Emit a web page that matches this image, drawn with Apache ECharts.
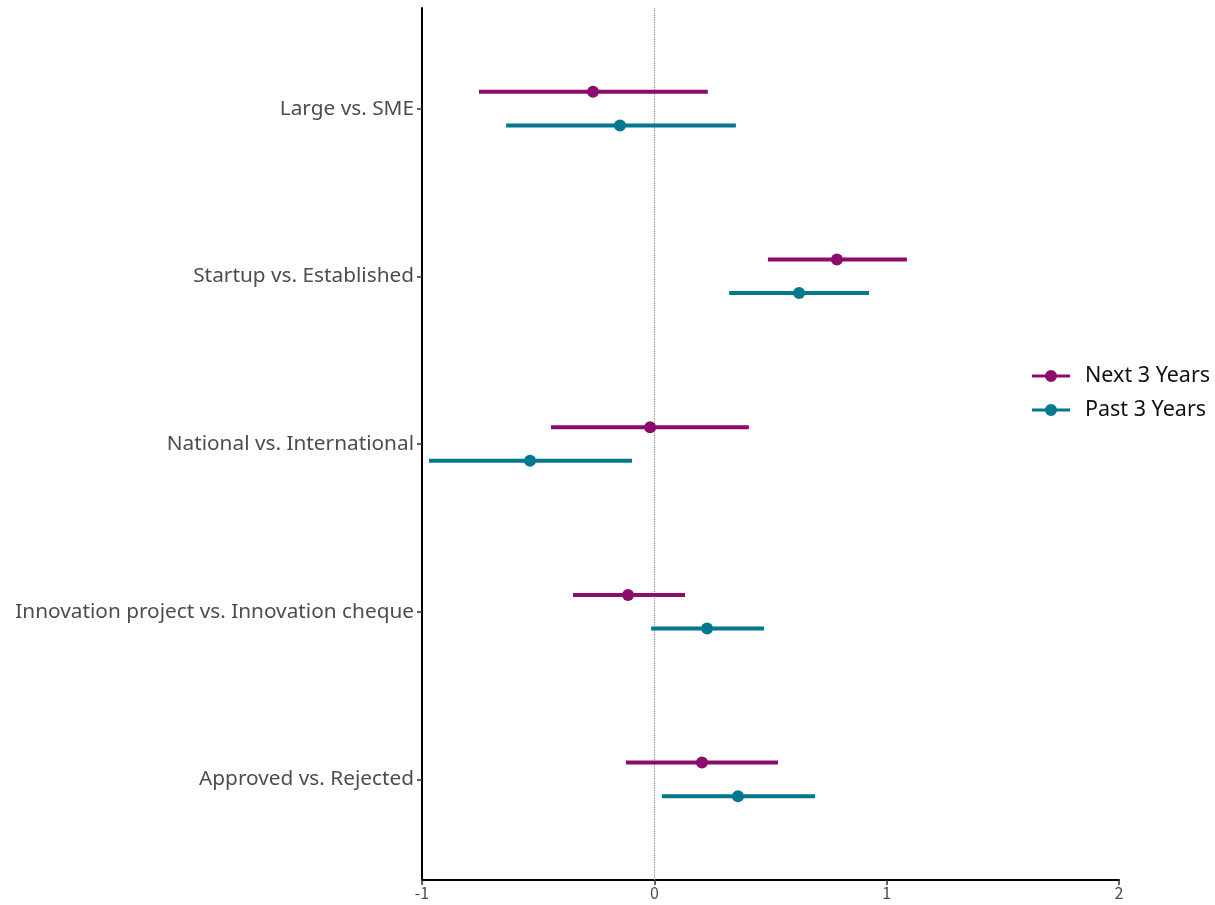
<!DOCTYPE html>
<html>
<head>
<meta charset="utf-8">
<script src="https://cdn.jsdelivr.net/npm/echarts@6/dist/echarts.min.js"></script>
<style>
  html, body { margin: 0; padding: 0; background: #fff; }
  #chart { width: 1215px; height: 905px; }
</style>
</head>
<body>
<div id="chart"></div>
<script>
// Comparison groups, top to bottom
const categories = [
  'Large vs. SME',
  'Startup vs. Established',
  'National vs. International',
  'Innovation project vs. Innovation cheque',
  'Approved vs. Rejected'
];

// Estimates with lower / upper interval bounds
const nextEst = [-0.264, 0.786, -0.018, -0.113, 0.205];
const nextLo  = [-0.755, 0.489, -0.445, -0.350, -0.122];
const nextHi  = [ 0.230, 1.087,  0.407,  0.132,  0.532];

const pastEst = [-0.148, 0.623, -0.535, 0.227, 0.360];
const pastLo  = [-0.638, 0.322, -0.970, -0.014, 0.033];
const pastHi  = [ 0.351, 0.924, -0.096, 0.472, 0.692];

const xTicks = [-1, 0, 1, 2];

const seriesNames = ['Next 3 Years', 'Past 3 Years'];
const seriesColors = ['#8c0c6c', '#007890'];
const dodge = [0.1, -0.1];

const FONT = '"Noto Sans", "DejaVu Sans", sans-serif';
const TICK_FONT = '"Noto Sans CJK JP", "Noto Sans", sans-serif';
const n = categories.length;
const yPos = i => n - i;

function rows(est, lo, hi) {
  return est.map((v, i) => [v, yPos(i), lo[i], hi[i]]);
}

function makeSeries(k, data) {
  return {
    type: 'custom',
    name: seriesNames[k],
    data: data,
    encode: { x: [0, 2, 3], y: 1 },
    z: 3,
    renderItem: function (params, api) {
      const y = api.value(1) + dodge[k];
      const p0 = api.coord([api.value(2), y]);
      const p1 = api.coord([api.value(3), y]);
      const pc = api.coord([api.value(0), y]);
      const col = seriesColors[k];
      return {
        type: 'group',
        children: [
          { type: 'line', shape: { x1: p0[0], y1: p0[1], x2: p1[0], y2: p1[1] },
            style: { stroke: col, lineWidth: 4 } },
          { type: 'circle', shape: { cx: pc[0], cy: pc[1], r: 6 },
            style: { fill: col } }
        ]
      };
    }
  };
}

// Legend key: horizontal segment with a dot in the middle (same winding so the dot is solid)
const legendIcon = 'path://M0,4.5h38v3H0z M13,6a6,6 0 1,1 12,0a6,6 0 1,1 -12,0z';

const option = {
  backgroundColor: '#ffffff',
  animation: false,
  grid: { left: 422, right: 96, top: 8, bottom: 25, containLabel: false },
  legend: {
    orient: 'vertical',
    left: 1027,
    top: 360,
    itemGap: 12,
    itemWidth: 38,
    itemHeight: 12,
    data: seriesNames.map((s, k) => ({ name: s, icon: legendIcon, itemStyle: { color: seriesColors[k] } })),
    textStyle: { fontFamily: FONT, fontSize: 21.5, color: '#111', padding: [0, 0, 0, 10] }
  },
  xAxis: {
    type: 'value',
    min: -1,
    max: 2,
    interval: 1,
    splitLine: { show: false },
    axisLine: { show: true, onZero: false, lineStyle: { color: '#000', width: 2 } },
    axisTick: { show: true, length: 5, lineStyle: { color: '#333', width: 1.5 } },
    axisLabel: { fontFamily: TICK_FONT, fontSize: 16, color: '#4d4d4d', margin: 5,
      customValues: xTicks }
  },
  yAxis: {
    type: 'value',
    min: 0.4,
    max: n + 0.6,
    splitLine: { show: false },
    axisLine: { show: true, onZero: false, lineStyle: { color: '#000', width: 2 } },
    axisTick: { show: true, length: 5, lineStyle: { color: '#333', width: 1.5 },
      customValues: categories.map((c, i) => yPos(i)) },
    axisLabel: {
      fontFamily: FONT, fontSize: 20.8, color: '#4d4d4d', margin: 8,
      customValues: categories.map((c, i) => yPos(i)),
      formatter: v => categories[n - Math.round(v)] || ''
    }
  },
  series: [
    Object.assign(makeSeries(0, rows(nextEst, nextLo, nextHi)), {
      markLine: {
        silent: true,
        symbol: 'none',
        label: { show: false },
        lineStyle: { color: '#8a8a8a', type: 'dotted', width: 1.2 },
        data: [{ xAxis: 0 }],
        z: 1
      }
    }),
    makeSeries(1, rows(pastEst, pastLo, pastHi))
  ]
};

const chart = echarts.init(document.getElementById('chart'), null, { renderer: 'canvas' });
chart.setOption(option);
</script>
</body>
</html>
